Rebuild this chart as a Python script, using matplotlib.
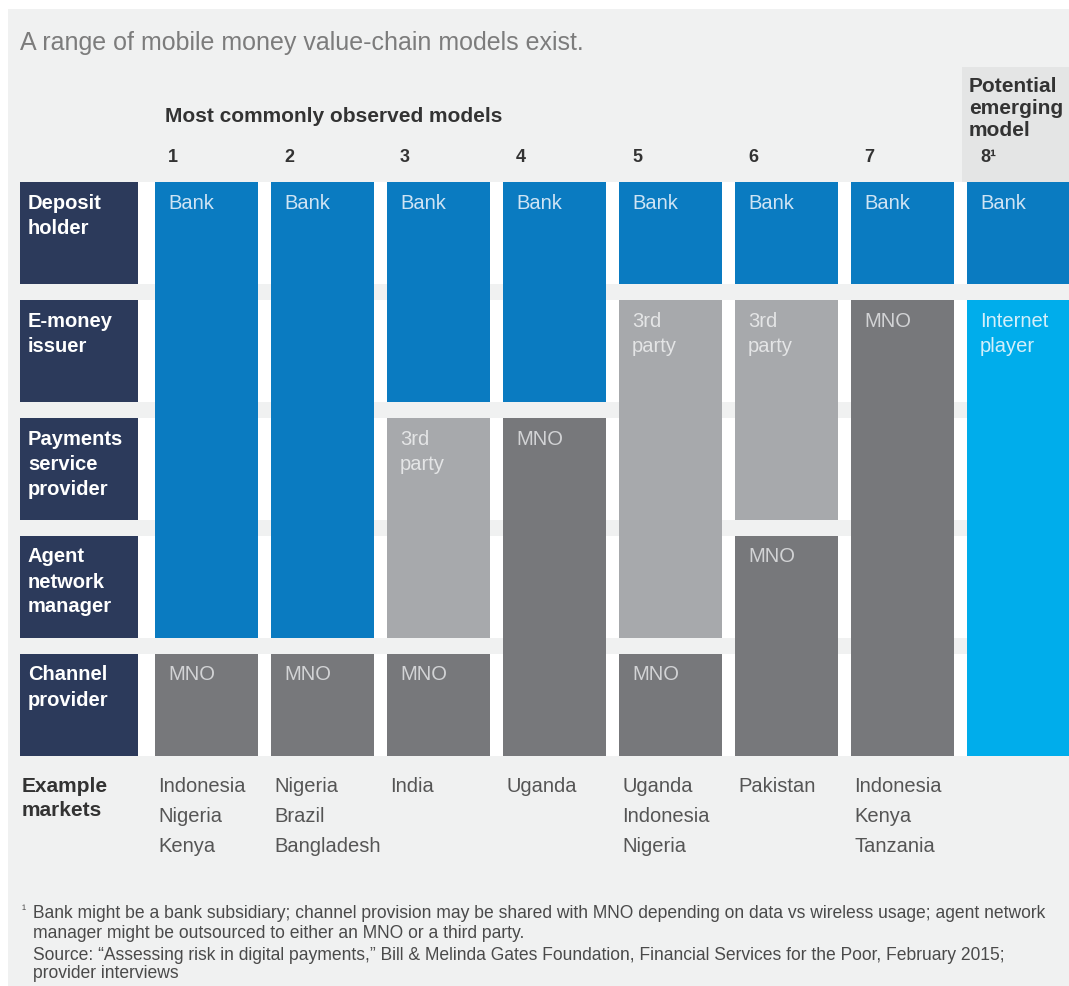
import matplotlib
matplotlib.use("Agg")
import matplotlib.pyplot as plt
import matplotlib.transforms as mtransforms
from matplotlib.patches import Rectangle

# ---------------- data ----------------
title = "A range of mobile money value-chain models exist."
group_label = "Most commonly observed models"
emerging_label = ["Potential", "emerging", "model"]
model_numbers = ["1", "2", "3", "4", "5", "6", "7", "8¹"]
roles = [["Deposit", "holder"], ["E-money", "issuer"],
         ["Payments", "service", "provider"],
         ["Agent", "network", "manager"], ["Channel", "provider"]]

# blocks per model: (first role index, last role index, player)
model1_blocks = [(0, 3, "Bank"), (4, 4, "MNO")]
model2_blocks = [(0, 3, "Bank"), (4, 4, "MNO")]
model3_blocks = [(0, 1, "Bank"), (2, 3, "3rd party"), (4, 4, "MNO")]
model4_blocks = [(0, 1, "Bank"), (2, 4, "MNO")]
model5_blocks = [(0, 0, "Bank"), (1, 3, "3rd party"), (4, 4, "MNO")]
model6_blocks = [(0, 0, "Bank"), (1, 2, "3rd party"), (3, 4, "MNO")]
model7_blocks = [(0, 0, "Bank"), (1, 4, "MNO")]
model8_blocks = [(0, 0, "Bank"), (1, 4, "Internet player")]

markets_label = ["Example", "markets"]
model1_markets = ["Indonesia", "Nigeria", "Kenya"]
model2_markets = ["Nigeria", "Brazil", "Bangladesh"]
model3_markets = ["India"]
model4_markets = ["Uganda"]
model5_markets = ["Uganda", "Indonesia", "Nigeria"]
model6_markets = ["Pakistan"]
model7_markets = ["Indonesia", "Kenya", "Tanzania"]
model8_markets = []

footnote_mark = "¹"
footnote_lines = [
    "Bank might be a bank subsidiary; channel provision may be shared with MNO depending on data vs wireless usage; agent network",
    "manager might be outsourced to either an MNO or a third party.",
    "Source: \u201cAssessing risk in digital payments,\u201d Bill & Melinda Gates Foundation, Financial Services for the Poor, February 2015;",
    "provider interviews",
]

# ---------------- styles ----------------
player_display = {"Bank": ["Bank"], "MNO": ["MNO"], "3rd party": ["3rd", "party"],
                  "Internet player": ["Internet", "player"]}
player_color = {"Bank": "#0a7bc1", "MNO": "#77787b", "3rd party": "#a7a9ac",
                "Internet player": "#00adeb"}
player_text = {"Bank": "#cfe4f4", "MNO": "#d2d3d5", "3rd party": "#e4e5e6",
               "Internet player": "#d3effa"}
NAVY = "#2c3a5b"
PANEL = "#f0f1f1"
FONT = "Liberation Sans"

W, H, DPI = 1069, 987, 100
fig = plt.figure(figsize=(W / DPI, H / DPI), dpi=DPI, facecolor="white")
ax = fig.add_axes([0, 0, 1, 1])
ax.patch.set_visible(False)

COL_PITCH, COL1_C, BAR_PX = 116.0, 206.5, 103.0
ROW_PITCH, ROW0_TOP, BOX_PX = 118.0, 183.0, 102.0


def xd(px):
    return 1 + (px - COL1_C) / COL_PITCH


def yd(py):
    return (py - ROW0_TOP) / ROW_PITCH


ax.set_xlim(xd(0), xd(W))
ax.set_ylim(yd(H), yd(0))
ax.axis("off")

BAR_W = BAR_PX / COL_PITCH
BOX_H = BOX_PX / ROW_PITCH
GAP = 1 - BOX_H
LABEL_L, LABEL_R = xd(20), xd(138)
n_roles = len(roles)

# backgrounds (in the same axes, below everything else)
ax.add_patch(Rectangle((xd(8), yd(10)), xd(W) - xd(8), yd(H) - yd(10),
                       color=PANEL, zorder=0, lw=0))
ax.add_patch(Rectangle((xd(962), yd(68)), xd(W) - xd(962), yd(ROW0_TOP) - yd(68),
                       color="#e4e5e5", zorder=0.5, lw=0))
ax.add_patch(Rectangle((LABEL_R, 0), xd(967) - LABEL_R, n_roles - GAP,
                       color="white", zorder=1, lw=0))
for i in range(n_roles - 1):
    ax.add_patch(Rectangle((LABEL_R, i + BOX_H), xd(W) - LABEL_R, GAP,
                           color=PANEL, zorder=1.5, lw=0))

# role label boxes
for i, lines in enumerate(roles):
    ax.bar((LABEL_L + LABEL_R) / 2, BOX_H, bottom=i, width=LABEL_R - LABEL_L,
           color=NAVY, lw=0, zorder=3)
    for k, ln in enumerate(lines):
        ax.annotate(ln, xy=(LABEL_L, i), xytext=(8, -(20 + 25 * k)),
                    textcoords="offset pixels", va="center", ha="left",
                    color="white", fontsize=14.5, fontweight="bold",
                    family=FONT, zorder=4)

models = [model1_blocks, model2_blocks, model3_blocks, model4_blocks,
          model5_blocks, model6_blocks, model7_blocks, model8_blocks]
markets = [model1_markets, model2_markets, model3_markets, model4_markets,
           model5_markets, model6_markets, model7_markets, model8_markets]

for j, (blocks, num) in enumerate(zip(models, model_numbers), start=1):
    left = j - BAR_W / 2
    for a, b, player in blocks:
        ax.bar(j, (b - a + 1) - GAP, bottom=a, width=BAR_W,
               color=player_color[player], lw=0, zorder=3)
        for k, ln in enumerate(player_display[player]):
            ax.annotate(ln, xy=(left, a), xytext=(13, -(20 + 25 * k)),
                        textcoords="offset pixels", va="center", ha="left",
                        color=player_text[player], fontsize=14.5,
                        family=FONT, zorder=4)
    ax.annotate(num, xy=(left, 0), xytext=(13, 26), textcoords="offset pixels",
                va="center", ha="left", color="#333333", fontsize=13,
                fontweight="bold", family=FONT, zorder=4)
    for k, m in enumerate(markets[j - 1]):
        ax.annotate(m, xy=(left, yd(787)), xytext=(3, -30 * k),
                    textcoords="offset pixels", va="center", ha="left",
                    color="#555555", fontsize=14.5, family=FONT, zorder=4)

# free texts (positions in figure pixels, y measured from the top)
PX = mtransforms.Affine2D().scale(1 / W, -1 / H).translate(0, 1) + fig.transFigure
fig.text(20, 43, title, transform=PX, va="center", ha="left", color="#7c7c7c",
         fontsize=18, family=FONT)
fig.text(165, 117, group_label, transform=PX, va="center", ha="left",
         color="#333333", fontsize=15, fontweight="bold", family=FONT)
for k, ln in enumerate(emerging_label):
    fig.text(969, 87 + 22 * k, ln, transform=PX, va="center", ha="left",
             color="#333333", fontsize=15, fontweight="bold", family=FONT)
for k, ln in enumerate(markets_label):
    fig.text(22, 787 + 23 * k, ln, transform=PX, va="center", ha="left",
             color="#333333", fontsize=15, fontweight="bold", family=FONT)

fig.text(22, 911, footnote_mark, transform=PX, va="center", ha="left",
         color="#555555", fontsize=9, family=FONT)
fn_y = [913, 933, 955, 974]
fn_texts = []
for y, ln in zip(fn_y, footnote_lines):
    fn_texts.append(fig.text(33, y, ln, transform=PX, va="center", ha="left",
                             color="#4a4a4a", fontsize=11, family=FONT))

# fit footnote width to the reference (first line spans x 33..1045)
fig.canvas.draw()
r = fig.canvas.get_renderer()
w0 = fn_texts[0].get_window_extent(r).width
scale = (1045 - 33) / w0
for t in fn_texts:
    t.set_fontsize(11 * scale)

fig.savefig("out.png", dpi=DPI, facecolor="white")
